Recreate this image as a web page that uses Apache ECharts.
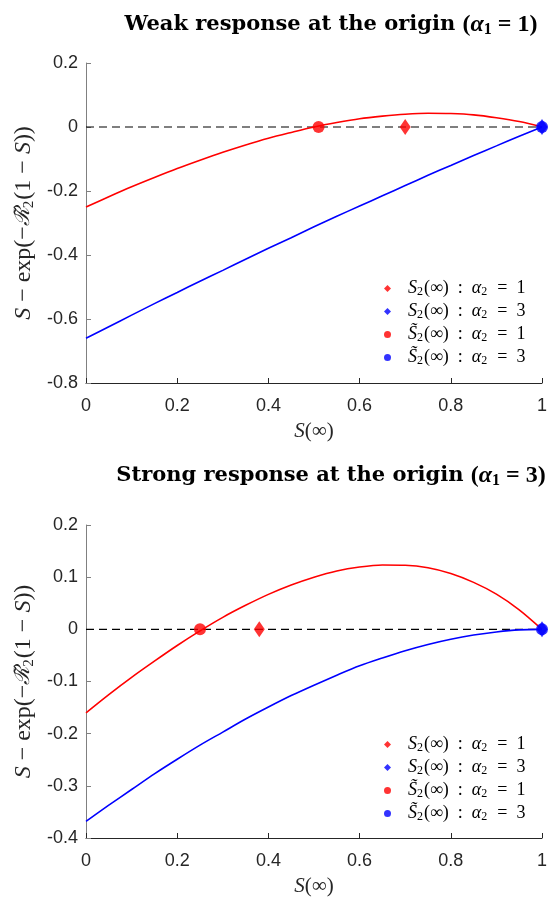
<!DOCTYPE html>
<html>
<head>
<meta charset="utf-8">
<script src="https://cdn.jsdelivr.net/npm/echarts@6/dist/echarts.min.js"></script>
<style>html,body{margin:0;padding:0;background:#fff;}#c{width:554px;height:900px;}</style>
</head>
<body>
<div id="c"></div>
<script>
// Sample positions on S(infinity)
const xs = [0,0.05,0.1,0.15,0.2,0.25,0.3,0.35,0.4,0.45,0.5,0.55,0.6,0.65,0.7,0.75,0.8,0.85,0.9,0.95,1];
// Top panel (alpha1 = 1)
const topRed  = [-0.25,-0.218,-0.187,-0.158,-0.130,-0.104,-0.079,-0.056,-0.035,-0.017,0.0,0.014,0.026,0.034,0.040,0.043,0.042,0.038,0.029,0.017,0.0];
const topBlue = [-0.66,-0.624,-0.588,-0.552,-0.517,-0.482,-0.448,-0.413,-0.379,-0.346,-0.312,-0.279,-0.247,-0.215,-0.183,-0.151,-0.120,-0.089,-0.059,-0.029,0.0];
// Bottom panel (alpha1 = 3)
const botRed  = [-0.16,-0.125,-0.092,-0.061,-0.031,-0.003,0.023,0.046,0.067,0.085,0.100,0.112,0.1195,0.1234,0.1229,0.118,0.107,0.090,0.0675,0.0375,0.0];
const botBlue = [-0.368,-0.337,-0.307,-0.277,-0.249,-0.222,-0.197,-0.172,-0.149,-0.127,-0.107,-0.088,-0.070,-0.055,-0.041,-0.029,-0.019,-0.011,-0.005,-0.001,0.0];
// Roots (S2 = diamonds, S2~ = circles)
const topS2a1 = [0.70, 0], topS2a3 = [1, 0], topSt2a1 = [0.51, 0], topSt2a3 = [1, 0];
const botS2a1 = [0.38, 0], botS2a3 = [1, 0], botSt2a1 = [0.25, 0], botSt2a3 = [1, 0];

const pairs = (ys) => xs.map((x, i) => [x, ys[i]]);
const RED = '#ff0000', BLUE = '#0000ff';
const serif = 'Liberation Serif';
const sans = 'Liberation Sans';

const mathRich = {
  i: {fontFamily: serif, fontStyle: 'italic', fontSize: 24, color: '#262626'},
  n: {fontFamily: serif, fontSize: 24, color: '#262626'},
  c: {fontFamily: 'DejaVu Serif', fontStyle: 'italic', fontSize: 21, color: '#262626'},
  sub: {fontFamily: serif, fontSize: 15, color: '#262626', verticalAlign: 'bottom', padding: [10, 1, 0, 0]}
};
const xRich = {
  i: {fontFamily: serif, fontStyle: 'italic', fontSize: 21, color: '#262626'},
  n: {fontFamily: serif, fontSize: 21, color: '#262626'}
};
const legRich = {
  i: {fontFamily: serif, fontStyle: 'italic', fontSize: 18, lineHeight: 20, color: '#000'},
  n: {fontFamily: serif, fontSize: 18, lineHeight: 20, color: '#000'},
  sub: {fontFamily: serif, fontSize: 12, lineHeight: 20, color: '#000', padding: [7, 1, 0, 0]}
};
const legendNames = {
  S2a1: '{i|S}{sub|2}{n|(∞)  :  }{i|α}{sub|2}{n|  =  1}',
  S2a3: '{i|S}{sub|2}{n|(∞)  :  }{i|α}{sub|2}{n|  =  3}',
  St2a1: '{i|S̃}{sub|2}{n|(∞)  :  }{i|α}{sub|2}{n|  =  1}',
  St2a3: '{i|S̃}{sub|2}{n|(∞)  :  }{i|α}{sub|2}{n|  =  3}'
};
const titleRich = {
  b: {fontFamily: 'DejaVu Serif', fontWeight: 'bold', fontSize: 21, color: '#000'},
  i: {fontFamily: serif, fontStyle: 'italic', fontSize: 24, color: '#000'},
  n: {fontFamily: serif, fontSize: 24, color: '#000'},
  s: {fontFamily: serif, fontSize: 16, color: '#000', padding: [10, 0, 0, 0]}
};

function xAxisCfg(gi) {
  return {
    type: 'value', gridIndex: gi, min: 0, max: 1, interval: 0.2,
    axisLine: {show: true, onZero: false, lineStyle: {color: '#262626', width: 1}},
    axisTick: {show: true, inside: true, length: 5, lineStyle: {color: '#262626'}},
    axisLabel: {color: '#262626', fontFamily: sans, fontSize: 18, margin: 14,
      formatter: (v) => String(+v.toFixed(1))},
    splitLine: {show: false},
    name: '{i|S}{n|(∞)}', nameLocation: 'middle', nameGap: 38,
    nameTextStyle: {rich: xRich}
  };
}
function yAxisCfg(gi, min, max, interval) {
  return {
    type: 'value', gridIndex: gi, min: min, max: max, interval: interval,
    axisLine: {show: true, onZero: false, lineStyle: {color: '#808080', width: 1}},
    axisTick: {show: true, inside: true, length: 5, lineStyle: {color: '#808080'}},
    axisLabel: {color: '#262626', fontFamily: sans, fontSize: 18, margin: 8,
      formatter: (v) => String(+v.toFixed(1))},
    splitLine: {show: false},
    name: '{i|S}{n| − exp(−}{c|ℛ̃}{sub|2}{n|(1 − }{i|S}{n|))}',
    nameLocation: 'middle', nameGap: 49, nameRotate: 90,
    nameTextStyle: {rich: mathRich}
  };
}
function panelSeries(gi, red, blue, s2a1, s2a3, st2a1, st2a3, pre) {
  return [
    {type: 'line', xAxisIndex: gi, yAxisIndex: gi, data: [[0, 0], [1, 0]], symbol: 'none', silent: true,
      lineStyle: {color: '#000', width: 1.1, type: [8, 5]}, z: 1},
    {type: 'line', xAxisIndex: gi, yAxisIndex: gi, data: pairs(red), smooth: 0.3, symbol: 'none',
      lineStyle: {color: RED, width: 1.6}, z: 2},
    {type: 'line', xAxisIndex: gi, yAxisIndex: gi, data: pairs(blue), smooth: 0.3, symbol: 'none',
      lineStyle: {color: BLUE, width: 1.6}, z: 2},
    {name: pre + 'S2a1', type: 'scatter', xAxisIndex: gi, yAxisIndex: gi, data: [s2a1], symbol: 'diamond', symbolSize: [11, 16], itemStyle: {color: RED}, z: 4},
    {name: pre + 'S2a3', type: 'scatter', xAxisIndex: gi, yAxisIndex: gi, data: [s2a3], symbol: 'diamond', symbolSize: [11, 16], itemStyle: {color: BLUE}, z: 4},
    {name: pre + 'St2a1', type: 'scatter', xAxisIndex: gi, yAxisIndex: gi, data: [st2a1], symbol: 'circle', symbolSize: 12, itemStyle: {color: RED}, z: 5},
    {name: pre + 'St2a3', type: 'scatter', xAxisIndex: gi, yAxisIndex: gi, data: [st2a3], symbol: 'circle', symbolSize: 12, itemStyle: {color: BLUE}, z: 5}
  ];
}
function legendCfg(pre, top) {
  return {
    orient: 'vertical', left: 379, top: top, itemGap: 4, itemWidth: 7, itemHeight: 7,
    selectedMode: false,
    data: [
      {name: pre + 'S2a1', icon: 'diamond'}, {name: pre + 'S2a3', icon: 'diamond'},
      {name: pre + 'St2a1', icon: 'circle'}, {name: pre + 'St2a3', icon: 'circle'}
    ],
    formatter: (n) => legendNames[n.slice(pre.length)],
    textStyle: {rich: legRich, padding: [0, 0, 0, 12]}
  };
}

const chart = echarts.init(document.getElementById('c'), null, {renderer: 'canvas'});
chart.setOption({
  animation: false,
  title: [
    {text: '{b|Weak response at the origin }{n|(}{i|α}{s|1}{n| = 1)}', left: 326, textAlign: 'center', top: 7, textStyle: {rich: titleRich}},
    {text: '{b|Strong response at the origin }{n|(}{i|α}{s|1}{n| = 3)}', left: 326, textAlign: 'center', top: 458, textStyle: {rich: titleRich}}
  ],
  grid: [
    {left: 86, right: 12, top: 63, height: 320},
    {left: 86, right: 12, top: 525, height: 313}
  ],
  xAxis: [xAxisCfg(0), xAxisCfg(1)],
  yAxis: [yAxisCfg(0, -0.8, 0.2, 0.2), yAxisCfg(1, -0.4, 0.2, 0.1)],
  legend: [legendCfg('t_', 274), legendCfg('b_', 730)],
  series: [].concat(
    panelSeries(0, topRed, topBlue, topS2a1, topS2a3, topSt2a1, topSt2a3, 't_'),
    panelSeries(1, botRed, botBlue, botS2a1, botS2a3, botSt2a1, botSt2a3, 'b_')
  )
});
</script>
</body>
</html>
